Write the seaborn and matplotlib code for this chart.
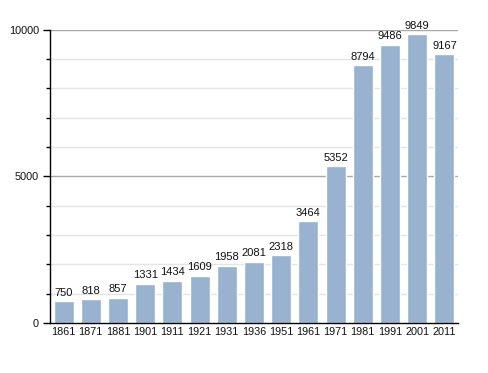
import matplotlib
matplotlib.use("Agg")
import matplotlib.pyplot as plt
import seaborn as sns
import pandas as pd
from matplotlib.ticker import MultipleLocator

years = ["1861", "1871", "1881", "1901", "1911", "1921", "1931", "1936",
         "1951", "1961", "1971", "1981", "1991", "2001", "2011"]
population = [750, 818, 857, 1331, 1434, 1609, 1958, 2081,
              2318, 3464, 5352, 8794, 9486, 9849, 9167]

df = pd.DataFrame({"year": years, "pop": population})

sns.set_style("white")
plt.rcParams["font.family"] = ["Liberation Sans", "DejaVu Sans"]

fig = plt.figure(figsize=(4.88, 3.73), dpi=100)
ax = fig.add_axes([0.1025, 0.134, 0.836, 0.786])

# gridlines: light every 1000, darker every 5000
for v in range(1000, 10001, 1000):
    major = v % 5000 == 0
    ax.axhline(v, color="#a8a8a8" if major else "#e4e4e4", lw=1.0, zorder=0)

sns.barplot(data=df, x="year", y="pop", color="#98B2CF", saturation=1,
            width=0.74, ax=ax, zorder=2)

for i, v in enumerate(population):
    ax.text(i, v + 120, str(v), ha="center", va="bottom", fontsize=8,
            color="#111111", zorder=3)

ax.set_ylim(0, 10000)
ax.set_xlim(-0.5, len(years) - 0.5)
ax.yaxis.set_major_locator(MultipleLocator(5000))
ax.yaxis.set_minor_locator(MultipleLocator(1000))
ax.tick_params(axis="y", which="major", length=5, width=1, color="black",
               labelsize=7.8, pad=3, left=True, labelcolor="#111111")
ax.tick_params(axis="y", which="minor", length=3, width=1, color="black", left=True)
ax.tick_params(axis="x", length=0, labelsize=7.8, pad=3, labelcolor="#111111")
ax.set_xlabel("")
ax.set_ylabel("")

for s in ["top", "right"]:
    ax.spines[s].set_visible(False)
ax.spines["left"].set_color("black")
ax.spines["bottom"].set_color("black")
ax.spines["left"].set_linewidth(1)
ax.spines["bottom"].set_linewidth(1)

fig.savefig("out.png", dpi=100)
